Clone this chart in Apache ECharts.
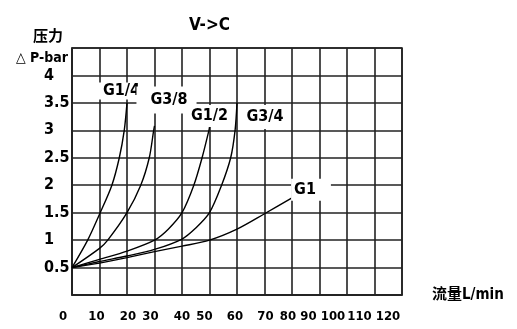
<!DOCTYPE html>
<html>
<head>
<meta charset="utf-8">
<script src="https://cdn.jsdelivr.net/npm/echarts@6/dist/echarts.min.js"></script>
<style>html,body{margin:0;padding:0;background:#fff}#c{width:517px;height:329px}</style>
</head>
<body>
<div id="c"></div>
<script>
// ---- data ----
const xTicks = ['0','10','20','30','40','50','60','70','80','90','100','110','120'];
const seriesNames = ['G1/4','G3/8','G1/2','G3/4','G1'];
const g14 = [[0,0.5],[5.7,1.0],[10,1.47],[14.5,2.0],[17.2,2.5],[19,3.0],[20,3.5]];
const g38 = [[0,0.5],[10,0.85],[13,1.0],[20,1.5],[25,2.0],[28.1,2.5],[29.7,3.0],[30,3.08]];
const g12 = [[0,0.5],[10,0.65],[20,0.8],[30,1.0],[35,1.2],[40,1.5],[44.3,2.0],[47.3,2.5],[49.8,3.0],[50,3.06]];
const g34 = [[0,0.5],[10,0.61],[20,0.71],[30,0.83],[40,1.02],[45,1.22],[50,1.5],[54.4,2.0],[57.7,2.5],[59.3,3.0],[60,3.5]];
const g1  = [[0,0.5],[10,0.58],[20,0.68],[30,0.79],[40,0.89],[50,1.0],[60,1.2],[70,1.48],[80,1.77]];
const allData = [g14, g38, g12, g34, g1];

// ---- layout (label tweaks) ----
const xLabelShift = [-9,-3,1,-4,0,-5,-2,1,-4,-11,-14,-15,-14];
const labelLayout = [
  {offset:[-8,-12], padding:[0,2,1,7]},
  {offset:[12,-26], padding:[9,9,2,14]},
  {offset:[0,-11], padding:[3,4,3,4]},
  {offset:[28,14], padding:[4,4,4,4]},
  {offset:[19,-8], padding:[5,15,1,3]}
];

const FONT = '"DejaVu Sans Condensed", "Noto Sans CJK SC", "DejaVu Sans", sans-serif';
const rich = {};
xLabelShift.forEach((d, i) => {
  rich['s' + i] = { padding: d >= 0 ? [0, 0, 0, 2 * d] : [0, -2 * d, 0, 0] };
});

const chart = echarts.init(document.getElementById('c'), null, {renderer: 'canvas'});
const lineStyleGrid = {color: '#222', width: 1.6};

chart.setOption({
  animation: false,
  backgroundColor: '#fff',
  textStyle: {fontFamily: FONT},
  title: [
    {text: 'V->C', left: 184, top: 12, textStyle: {fontFamily: FONT, fontSize: 17, fontWeight: 'bold', color: '#000'}},
    {text: '压力', left: 28, top: 23, textStyle: {fontFamily: '"Noto Sans CJK SC", sans-serif', fontSize: 15, fontWeight: 'bold', color: '#000'}},
    {text: '△ P-bar', left: 11, top: 46, textStyle: {fontFamily: FONT, fontSize: 14, fontWeight: 'bold', color: '#000'}}
  ],
  grid: {left: 72, right: 115, top: 48, bottom: 34, show: true, borderColor: '#222', borderWidth: 1.6, backgroundColor: 'transparent'},
  xAxis: [{
    type: 'value', min: 0, max: 120, interval: 10, position: 'bottom',
    axisLine: {show: true, lineStyle: lineStyleGrid},
    axisTick: {show: false},
    splitLine: {show: true, lineStyle: lineStyleGrid},
    axisLabel: {show: false},
    name: '流量L/min', nameLocation: 'end', nameGap: 30,
    nameTextStyle: {fontSize: 15, fontWeight: 'bold', color: '#000', fontFamily: FONT, verticalAlign: 'middle', padding: [46, 0, 0, 0]}
  }, {
    type: 'category', data: xTicks, boundaryGap: false, position: 'bottom',
    axisLine: {show: false}, axisTick: {show: false}, splitLine: {show: false},
    axisLabel: {
      show: true, interval: 0, margin: 15, fontSize: 13, fontWeight: 'bold', color: '#000', fontFamily: FONT,
      formatter: function (v, i) { return '{s' + i + '|' + v + '}'; },
      rich: rich
    }
  }],
  yAxis: {
    type: 'value', min: 0, max: 4.5, interval: 0.5,
    axisLine: {show: true, lineStyle: lineStyleGrid},
    axisTick: {show: false},
    splitLine: {show: true, lineStyle: lineStyleGrid},
    axisLabel: {
      show: true, align: 'left', margin: 28, fontSize: 16, fontWeight: 'bold', color: '#000', fontFamily: FONT,
      formatter: function (v) { if (v === 0 || v === 4.5) return ''; return String(v); }
    }
  },
  series: allData.map((d, i) => ({
    name: seriesNames[i],
    type: 'line',
    xAxisIndex: 0,
    data: d,
    smooth: 0.3,
    symbol: 'none',
    lineStyle: {color: '#000', width: 1.4},
    z: 3,
    markPoint: {
      symbol: 'circle', symbolSize: 0, z: 10,
      itemStyle: {color: 'transparent'},
      label: {
        show: true, position: 'inside', formatter: seriesNames[i],
        offset: labelLayout[i].offset, padding: labelLayout[i].padding,
        backgroundColor: '#fff', color: '#000', fontSize: 16, fontWeight: 'bold', fontFamily: FONT
      },
      data: [{coord: d[d.length - 1]}]
    }
  }))
});
</script>
</body>
</html>
